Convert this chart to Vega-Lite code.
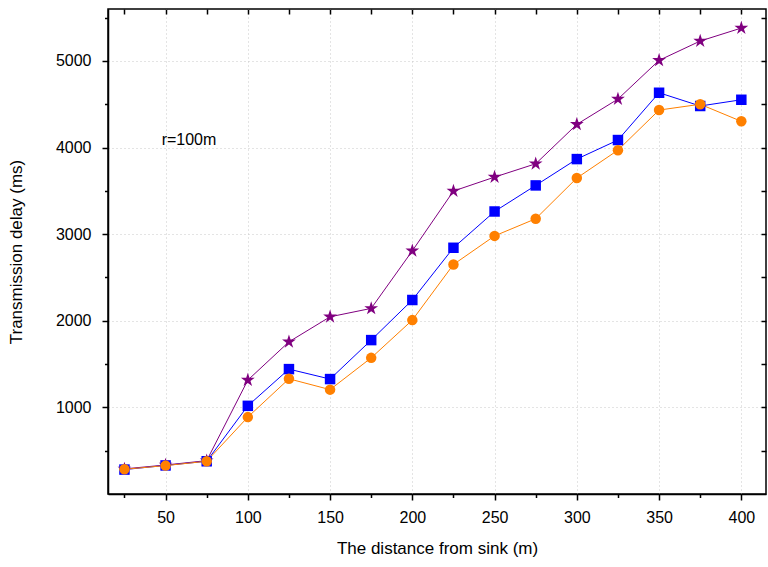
{
  "$schema": "https://vega.github.io/schema/vega-lite/v6.json",
  "autosize": {"type": "none"},
  "padding": {"left": 108, "top": 9, "right": 2, "bottom": 73},
  "width": 658,
  "height": 485,
  "background": "white",
  "config": {
    "view": {"stroke": "black", "strokeWidth": 1.5},
    "font": "Liberation Sans",
    "axis": {
      "labelFont": "Liberation Sans",
      "titleFont": "Liberation Sans",
      "labelColor": "black",
      "titleColor": "black",
      "tickColor": "black",
      "domainColor": "black",
      "titleFontWeight": "normal",
      "gridColor": "#c8c8c8",
      "gridDash": [1, 3],
      "gridWidth": 1
    }
  },
  "data": {
    "values": [
      {"series": "ORW", "distance": 25, "delay": 290},
      {"series": "ORW", "distance": 50, "delay": 335},
      {"series": "ORW", "distance": 75, "delay": 385},
      {"series": "ORW", "distance": 100, "delay": 1315},
      {"series": "ORW", "distance": 125, "delay": 1757},
      {"series": "ORW", "distance": 150, "delay": 2046},
      {"series": "ORW", "distance": 175, "delay": 2143},
      {"series": "ORW", "distance": 200, "delay": 2808},
      {"series": "ORW", "distance": 225, "delay": 3498},
      {"series": "ORW", "distance": 250, "delay": 3659},
      {"series": "ORW", "distance": 275, "delay": 3813},
      {"series": "ORW", "distance": 300, "delay": 4268},
      {"series": "ORW", "distance": 325, "delay": 4560},
      {"series": "ORW", "distance": 350, "delay": 5007},
      {"series": "ORW", "distance": 375, "delay": 5230},
      {"series": "ORW", "distance": 400, "delay": 5380},
      {"series": "FFSC", "distance": 25, "delay": 282},
      {"series": "FFSC", "distance": 50, "delay": 330},
      {"series": "FFSC", "distance": 75, "delay": 378},
      {"series": "FFSC", "distance": 100, "delay": 1018},
      {"series": "FFSC", "distance": 125, "delay": 1442},
      {"series": "FFSC", "distance": 150, "delay": 1327},
      {"series": "FFSC", "distance": 175, "delay": 1777},
      {"series": "FFSC", "distance": 200, "delay": 2240},
      {"series": "FFSC", "distance": 225, "delay": 2843},
      {"series": "FFSC", "distance": 250, "delay": 3262},
      {"series": "FFSC", "distance": 275, "delay": 3563},
      {"series": "FFSC", "distance": 300, "delay": 3867},
      {"series": "FFSC", "distance": 325, "delay": 4087},
      {"series": "FFSC", "distance": 350, "delay": 4633},
      {"series": "FFSC", "distance": 375, "delay": 4480},
      {"series": "FFSC", "distance": 400, "delay": 4552},
      {"series": "LS", "distance": 25, "delay": 285},
      {"series": "LS", "distance": 50, "delay": 328},
      {"series": "LS", "distance": 75, "delay": 378},
      {"series": "LS", "distance": 100, "delay": 888},
      {"series": "LS", "distance": 125, "delay": 1330},
      {"series": "LS", "distance": 150, "delay": 1205},
      {"series": "LS", "distance": 175, "delay": 1572},
      {"series": "LS", "distance": 200, "delay": 2008},
      {"series": "LS", "distance": 225, "delay": 2650},
      {"series": "LS", "distance": 250, "delay": 2980},
      {"series": "LS", "distance": 275, "delay": 3178},
      {"series": "LS", "distance": 300, "delay": 3648},
      {"series": "LS", "distance": 325, "delay": 3970},
      {"series": "LS", "distance": 350, "delay": 4433},
      {"series": "LS", "distance": 375, "delay": 4500},
      {"series": "LS", "distance": 400, "delay": 4303}
    ]
  },
  "resolve": {"axis": {"x": "independent", "y": "independent"}},
  "layer": [
    {
      "mark": {"type": "line", "strokeWidth": 1},
      "encoding": {
        "x": {
          "field": "distance", "type": "quantitative",
          "scale": {"domain": [15, 415], "nice": false, "zero": false},
          "axis": {
            "orient": "bottom", "values": [50, 100, 150, 200, 250, 300, 350, 400], "format": "d",
            "tickSize": 6, "tickWidth": 1.5, "domainWidth": 1.5,
            "labelFontSize": 16, "labelPadding": 9,
            "title": "The distance from sink (m)", "titleFontSize": 17, "titlePadding": 15,
            "grid": true
          }
        },
        "y": {
          "field": "delay", "type": "quantitative",
          "scale": {"domain": [0, 5600], "nice": false, "zero": false},
          "axis": {
            "orient": "left", "values": [1000, 2000, 3000, 4000, 5000], "format": "d",
            "tickSize": 6, "tickWidth": 1.5, "domainWidth": 1.5,
            "labelFontSize": 16, "labelPadding": 11,
            "title": "Transmission delay (ms)", "titleFontSize": 17, "titlePadding": 30,
            "grid": true
          }
        },
        "color": {
          "field": "series", "type": "nominal",
          "scale": {"domain": ["LS", "FFSC", "ORW"], "range": ["#FF8000", "#0000FF", "#800080"]},
          "legend": null
        },
        "detail": {"field": "series", "type": "nominal"}
      }
    },
    {
      "mark": {"type": "point", "filled": true, "opacity": 1},
      "encoding": {
        "x": {
          "field": "distance", "type": "quantitative",
          "axis": {
            "orient": "bottom", "values": [25, 75, 125, 175, 225, 275, 325, 375],
            "tickSize": 3.5, "tickWidth": 1.5, "labels": false, "domain": false, "grid": false, "title": null
          }
        },
        "y": {
          "field": "delay", "type": "quantitative",
          "axis": {
            "orient": "left", "values": [500, 1500, 2500, 3500, 4500, 5500],
            "tickSize": 3.5, "tickWidth": 1.5, "labels": false, "domain": false, "grid": false, "title": null
          }
        },
        "color": {
          "field": "series", "type": "nominal",
          "legend": {
            "orient": "none", "legendX": 52, "legendY": 24, "title": null,
            "strokeColor": "#333333", "fillColor": "white", "padding": 6,
            "symbolSize": 130, "symbolOffset": 14, "labelFontSize": 19, "labelFont": "Liberation Sans", "labelColor": "black",
            "labelOffset": 22, "rowPadding": 7.5
          }
        },
        "shape": {
          "field": "series", "type": "nominal",
          "scale": {"domain": ["LS", "FFSC", "ORW"], "range": ["circle", "square", "M0,-1L0.2245,-0.309L0.9511,-0.309L0.3633,0.118L0.5878,0.809L0,0.382L-0.5878,0.809L-0.3633,0.118L-0.9511,-0.309L-0.2245,-0.309Z"]}
        },
        "size": {
          "condition": {"test": "datum.series === 'ORW'", "value": 210},
          "value": 110
        }
      }
    },
    {
      "data": {"values": [{"note": "r=100m"}]},
      "mark": {"type": "text", "fontSize": 16, "font": "Liberation Sans", "align": "left", "baseline": "alphabetic", "color": "black"},
      "encoding": {
        "x": {
          "datum": 47.6, "type": "quantitative",
          "axis": {
            "orient": "top", "values": [25, 50, 75, 100, 125, 150, 175, 200, 225, 250, 275, 300, 325, 350, 375, 400],
            "tickSize": 5, "offset": -5, "tickWidth": 1.5, "labels": false, "domain": false, "grid": false, "title": null
          }
        },
        "y": {
          "datum": 4029, "type": "quantitative",
          "axis": {
            "orient": "right", "values": [500, 1000, 1500, 2000, 2500, 3000, 3500, 4000, 4500, 5000, 5500],
            "tickSize": 5, "offset": -5, "tickWidth": 1.5, "labels": false, "domain": false, "grid": false, "title": null
          }
        },
        "text": {"field": "note", "type": "nominal"}
      }
    }
  ]
}
